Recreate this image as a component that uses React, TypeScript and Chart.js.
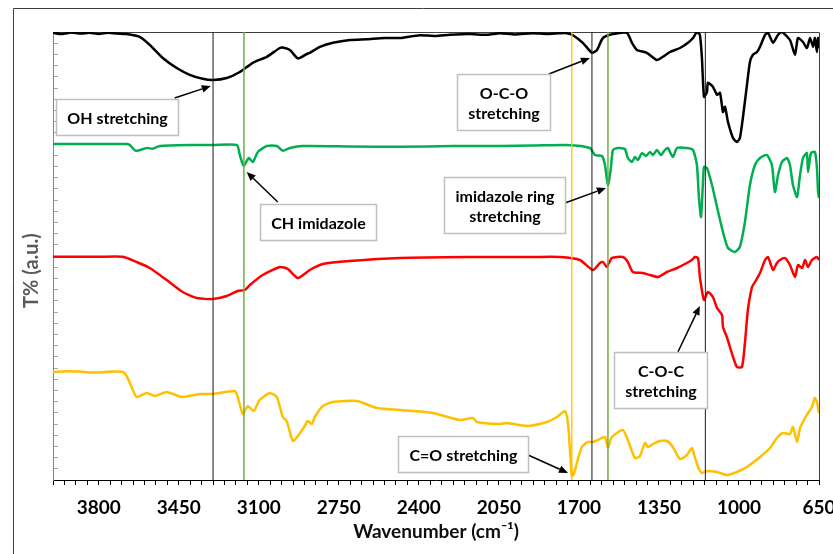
import React, { useEffect, useRef } from 'react';
import { Chart, registerables } from 'chart.js';

Chart.register(...registerables);

// ---------- data ----------
const xTickLabels = ['3800', '3450', '3100', '2750', '2400', '2050', '1700', '1350', '1000', '650'];

const blackWave = [4000, 3960, 3920, 3880, 3840, 3800, 3760, 3720, 3678, 3621, 3577, 3520, 3459, 3402, 3345, 3301, 3240, 3183, 3126, 3065, 3008, 2995, 2964, 2929, 2890, 2877, 2833, 2776, 2702, 2628, 2550, 2483, 2396, 2330, 2264, 2180, 2100, 2046, 1980, 1901, 1840, 1783, 1753, 1726, 1683, 1643, 1621, 1595, 1551, 1490, 1468, 1446, 1403, 1359, 1333, 1302, 1258, 1223, 1201, 1184, 1171, 1162, 1153, 1140, 1136, 1114, 1096, 1083, 1070, 1061, 1048, 1026, 1009, 996, 983, 965, 952, 939, 921, 908, 886, 873, 851, 829, 812, 777, 755, 742, 720, 703, 689, 676, 668, 659, 654, 650];
const blackT = [111.8, 111.5, 111.9, 111.6, 111.8, 111.5, 111.8, 111.6, 111.5, 110.8, 108.8, 105.5, 103, 101.3, 100.3, 100, 100.5, 102, 104.3, 105.8, 108, 108.1, 107.5, 105.4, 106.5, 106.8, 108.3, 109.3, 110, 110.2, 110.5, 110.5, 111.2, 111, 111.3, 111.5, 111.3, 111.7, 111.4, 111.7, 111.5, 111.7, 111.7, 111.2, 109.3, 106.8, 107.5, 110.5, 111.5, 111.8, 109.3, 107.5, 106.8, 105, 105.8, 107, 108, 109.3, 110.5, 112, 111.3, 105.5, 95.8, 97, 99.3, 98.3, 96.3, 96.8, 92, 93.3, 89.5, 85.5, 84.5, 85.5, 90.5, 98.8, 104.5, 106.3, 107, 108.3, 111.3, 111.8, 109.3, 111.3, 112, 110, 106.3, 110.5, 109.5, 108, 110.5, 108.3, 110.5, 107, 110.5, 108];

const greenWave = [4000, 3800, 3678, 3664, 3638, 3590, 3564, 3533, 3400, 3300, 3196, 3183, 3166, 3144, 3126, 3104, 3065, 3021, 2995, 2964, 2908, 2700, 2483, 2250, 2046, 1900, 1753, 1652, 1630, 1599, 1586, 1573, 1560, 1551, 1529, 1499, 1486, 1468, 1455, 1442, 1424, 1407, 1389, 1376, 1359, 1341, 1324, 1311, 1289, 1271, 1228, 1201, 1184, 1175, 1166, 1158, 1153, 1140, 1118, 1096, 1070, 1048, 1018, 996, 974, 952, 930, 908, 878, 856, 843, 829, 812, 790, 777, 764, 746, 733, 720, 703, 698, 685, 668, 659, 654, 650];
const greenT = [84, 84, 84, 83.75, 82.3, 83, 82.8, 83.5, 83.75, 83.75, 83.75, 81.25, 78.5, 80.5, 79.5, 82, 83.5, 83.5, 82.3, 83, 83.5, 83.4, 83.3, 83.5, 83.5, 83.6, 83.75, 83, 81.25, 81, 78.75, 73.75, 78, 82.5, 83, 82.75, 80.5, 79.5, 80.75, 80, 81.75, 81, 82, 81.25, 82.5, 81.25, 82.5, 83, 80.75, 83, 83, 82.5, 78.75, 70.5, 65.75, 73.75, 78.25, 78, 73.75, 68.25, 62, 58, 57, 58.25, 64.5, 73.75, 78.75, 80.5, 81.25, 78.75, 72, 76.25, 79.5, 80.5, 78.75, 73.75, 70.75, 76.25, 80.5, 81.75, 77, 81.75, 82, 78, 72, 70.5];

const redWave = [4000, 3800, 3695, 3634, 3577, 3503, 3433, 3371, 3301, 3240, 3192, 3161, 3139, 3083, 3008, 2973, 2929, 2877, 2820, 2702, 2483, 2190, 1901, 1783, 1696, 1639, 1608, 1595, 1578, 1556, 1508, 1486, 1464, 1420, 1389, 1354, 1315, 1271, 1228, 1206, 1193, 1179, 1171, 1153, 1136, 1114, 1096, 1074, 1070, 1053, 1026, 1009, 987, 974, 961, 943, 930, 908, 886, 873, 851, 834, 821, 799, 777, 755, 742, 724, 711, 698, 681, 659, 650];
const redT = [55.8, 55.8, 55.8, 54.5, 53, 50, 47, 45.5, 45.25, 46, 47.25, 47.5, 48.75, 51.25, 53.25, 52.75, 50.5, 52.5, 54, 54.75, 55.5, 55.75, 55.75, 55.75, 55, 52.5, 54.25, 54.5, 53.25, 55.5, 55.75, 54.5, 52, 51.75, 51.25, 50.75, 52, 53, 54.25, 55, 55.75, 55.5, 50.75, 45, 47, 45.75, 43, 41.25, 38.25, 35.75, 30.75, 28.25, 28.25, 34.25, 42.5, 48.25, 49.5, 51.75, 55, 55.75, 52.5, 54.25, 55, 55.5, 53.75, 50.75, 53.75, 53, 55, 53.25, 55, 55.75, 55];

const yellowWave = [4000, 3940, 3883, 3840, 3796, 3740, 3695, 3678, 3656, 3634, 3590, 3555, 3503, 3437, 3358, 3301, 3205, 3192, 3170, 3148, 3122, 3096, 3052, 3021, 2995, 2978, 2951, 2929, 2899, 2886, 2868, 2855, 2820, 2776, 2671, 2584, 2483, 2339, 2221, 2164, 2146, 2046, 2015, 1928, 1840, 1796, 1761, 1748, 1739, 1731, 1722, 1709, 1687, 1661, 1639, 1617, 1586, 1573, 1556, 1508, 1486, 1455, 1433, 1411, 1398, 1376, 1346, 1315, 1289, 1258, 1228, 1206, 1193, 1179, 1162, 1140, 1096, 1053, 1009, 965, 908, 864, 834, 808, 777, 764, 746, 733, 711, 698, 681, 668, 659, 650];
const yellowT = [27, 27.2, 27.1, 26.9, 26.9, 27.1, 27, 26, 23.25, 20.75, 21.75, 21, 22, 20.75, 21.5, 21.5, 22.25, 20.75, 16.5, 18.5, 17.25, 20, 21.75, 20.75, 15.75, 14.75, 9.75, 11, 13.5, 14.75, 14, 15.75, 18.5, 19.5, 19.75, 18, 17.5, 16.75, 15, 15.5, 14.5, 14, 14.25, 13.5, 14.5, 15.75, 17.25, 14.25, 7.5, 1, 1.5, 4.25, 8.25, 9.5, 9.5, 10, 10.75, 8, 10.75, 12.5, 10, 5.5, 6, 9.25, 8.25, 9, 9.75, 9.75, 8.25, 5.25, 6.25, 8, 5.75, 3.25, 1.75, 2.25, 2, 1.25, 2, 3.25, 5.75, 8, 10.5, 11.75, 11.5, 13.25, 9.5, 13, 15.5, 16.75, 18.25, 20.5, 19.5, 16.75];

const markerWave = [3300, 3165, 1731, 1643, 1573, 1147];

const annText = ['OH stretching', 'CH imidazole', 'O-C-O\nstretching', 'imidazole ring\nstretching', 'C-O-C\nstretching', 'C=O stretching'];
const annBoxWave = [3719, 2840, 2030, 2024, 1343, 2205];
const annBoxT = [90.75, 64.6, 94.5, 68.75, 25.1, 6.5];
const annFromWave = [3468, 3017, 1831, 1761, 1267, 1932];
const annFromT = [95.5, 69.5, 101.5, 69.25, 32, 6.5];
const annToWave = [3310, 3153, 1652, 1582, 1171, 1748];
const annToT = [98.5, 77, 105.5, 73, 43.5, 1.75];

// ---------- styles ----------
const FONT = 'Lato';
const markerColors = ['#1a1a1a', '#70ad47', '#ffc000', '#1a1a1a', '#70ad47', '#1a1a1a'];
const markerWidths = [1, 1.5, 1.3, 1, 1.5, 1];

const toPts = (w: number[], t: number[]) => w.map((x, i) => ({ x, y: t[i] }));

const framePlugin = {
  id: 'frame',
  beforeDraw(chart: any) {
    const { ctx, width, height } = chart;
    ctx.save();
    ctx.fillStyle = '#ffffff';
    ctx.fillRect(0, 0, width, height);
    ctx.strokeStyle = '#404040';
    ctx.lineWidth = 1;
    ctx.beginPath();
    ctx.moveTo(13.5, height);
    ctx.lineTo(13.5, 8.5);
    ctx.lineTo(width, 8.5);
    ctx.stroke();
    ctx.restore();
  },
  beforeDatasetsDraw(chart: any) {
    const { ctx, chartArea: a } = chart;
    ctx.save();
    ctx.strokeStyle = '#404040';
    ctx.lineWidth = 1;
    ctx.beginPath();
    ctx.moveTo(a.left, Math.round(a.top) + 0.5);
    ctx.lineTo(Math.round(a.right) + 0.5, Math.round(a.top) + 0.5);
    ctx.lineTo(Math.round(a.right) + 0.5, a.bottom);
    ctx.stroke();
    ctx.restore();
  },
};

const notesPlugin = {
  id: 'notes',
  afterDatasetsDraw(chart: any) {
    const { ctx } = chart;
    const xs = chart.scales.x;
    const ys = chart.scales.y;
    ctx.save();
    ctx.font = `bold 16px ${FONT}`;
    for (let i = 0; i < annText.length; i++) {
      const fx = xs.getPixelForValue(annFromWave[i]);
      const fy = ys.getPixelForValue(annFromT[i]);
      const tx = xs.getPixelForValue(annToWave[i]);
      const ty = ys.getPixelForValue(annToT[i]);
      const ang = Math.atan2(ty - fy, tx - fx);
      const head = 9;
      const bx = tx - head * Math.cos(ang);
      const by = ty - head * Math.sin(ang);
      ctx.strokeStyle = '#000';
      ctx.fillStyle = '#000';
      ctx.lineWidth = 1.5;
      ctx.beginPath();
      ctx.moveTo(fx, fy);
      ctx.lineTo(bx, by);
      ctx.stroke();
      ctx.beginPath();
      ctx.moveTo(tx, ty);
      ctx.lineTo(bx + 3.8 * Math.sin(ang), by - 3.8 * Math.cos(ang));
      ctx.lineTo(bx - 3.8 * Math.sin(ang), by + 3.8 * Math.cos(ang));
      ctx.closePath();
      ctx.fill();

      const lines = annText[i].split('\n');
      const w = Math.round(Math.max(...lines.map((l) => ctx.measureText(l).width)) + 22);
      const h = lines.length * 20 + 16;
      const cx = xs.getPixelForValue(annBoxWave[i]);
      const cy = ys.getPixelForValue(annBoxT[i]);
      const left = Math.round(cx - w / 2) + 0.5;
      const top = Math.round(cy - h / 2) + 0.5;
      ctx.fillStyle = '#fff';
      ctx.fillRect(left, top, w, h);
      ctx.strokeStyle = '#bfbfbf';
      ctx.lineWidth = 1.5;
      ctx.strokeRect(left, top, w, h);
      ctx.fillStyle = '#000';
      ctx.textAlign = 'center';
      ctx.textBaseline = 'middle';
      lines.forEach((l, j) => {
        ctx.fillText(l, left + w / 2, top + h / 2 + (j - (lines.length - 1) / 2) * 20 + 1);
      });
    }
    ctx.restore();
  },
};

export default function App() {
  const ref = useRef<HTMLCanvasElement>(null);

  useEffect(() => {
    const series = [
      { data: toPts(blackWave, blackT), color: '#000000' },
      { data: toPts(greenWave, greenT), color: '#00b050' },
      { data: toPts(redWave, redT), color: '#ff0000' },
      { data: toPts(yellowWave, yellowT), color: '#ffc000' },
    ];
    const markerSets = markerWave.map((w, i) => ({
      type: 'line',
      data: [{ x: w, y: 0 }, { x: w, y: 112 }],
      borderColor: markerColors[i],
      borderWidth: markerWidths[i],
      pointRadius: 0,
      order: 0,
    }));
    const lineSets = series.map((s) => ({
      type: 'line',
      data: s.data,
      borderColor: s.color,
      borderWidth: 2.5,
      pointRadius: 0,
      tension: 0.2,
      order: 1,
    }));

    const chart = new Chart(ref.current as HTMLCanvasElement, {
      type: 'line',
      data: { datasets: [...markerSets, ...lineSets] as any },
      options: {
        responsive: false,
        animation: false,
        devicePixelRatio: 1,
        layout: { padding: { left: 0, top: 32, right: 14, bottom: 0 } },
        plugins: { legend: { display: false }, tooltip: { enabled: false } },
        scales: {
          x: {
            type: 'linear',
            reverse: true,
            min: 650,
            max: 4000,
            afterFit: (s: any) => {
              s.height = 74;
              s.paddingLeft = 0;
              s.paddingRight = 0;
            },
            border: { display: true, color: '#000', width: 1 },
            grid: { display: true, drawOnChartArea: false, drawTicks: true, tickLength: 5, color: '#000', lineWidth: 1 },
            ticks: {
              stepSize: 50,
              autoSkip: false,
              maxRotation: 0,
              minRotation: 0,
              padding: 11,
              color: '#000',
              font: { family: FONT, size: 19, weight: 'bold' },
              callback: (v: any) => (xTickLabels.includes(String(v)) ? String(v) : ''),
            },
            title: {
              display: true,
              text: 'Wavenumber (cm⁻¹)',
              color: '#0d0d0d',
              font: { family: FONT, size: 19, weight: 'bold' },
              padding: { top: 0, bottom: 11 },
            },
          },
          y: {
            type: 'linear',
            min: 0,
            max: 112,
            afterFit: (s: any) => {
              s.width = 53;
              s.paddingTop = 0;
              s.paddingBottom = 0;
            },
            border: { display: true, color: '#868686', width: 1 },
            grid: { display: true, drawOnChartArea: false, drawTicks: true, tickLength: -5, color: '#a6a6a6' },
            ticks: { display: false, stepSize: 2.8 },
            title: {
              display: true,
              text: 'T% (a.u.)      ',
              color: '#595959',
              font: { family: FONT, size: 20, weight: 'bold' },
              padding: { top: 20, bottom: 0 },
            },
          },
        },
      } as any,
      plugins: [framePlugin, notesPlugin],
    });
    return () => chart.destroy();
  }, []);

  return (
    <canvas
      ref={ref}
      width={833}
      height={554}
      style={{ position: 'absolute', left: 0, top: 0, display: 'block' }}
    />
  );
}
